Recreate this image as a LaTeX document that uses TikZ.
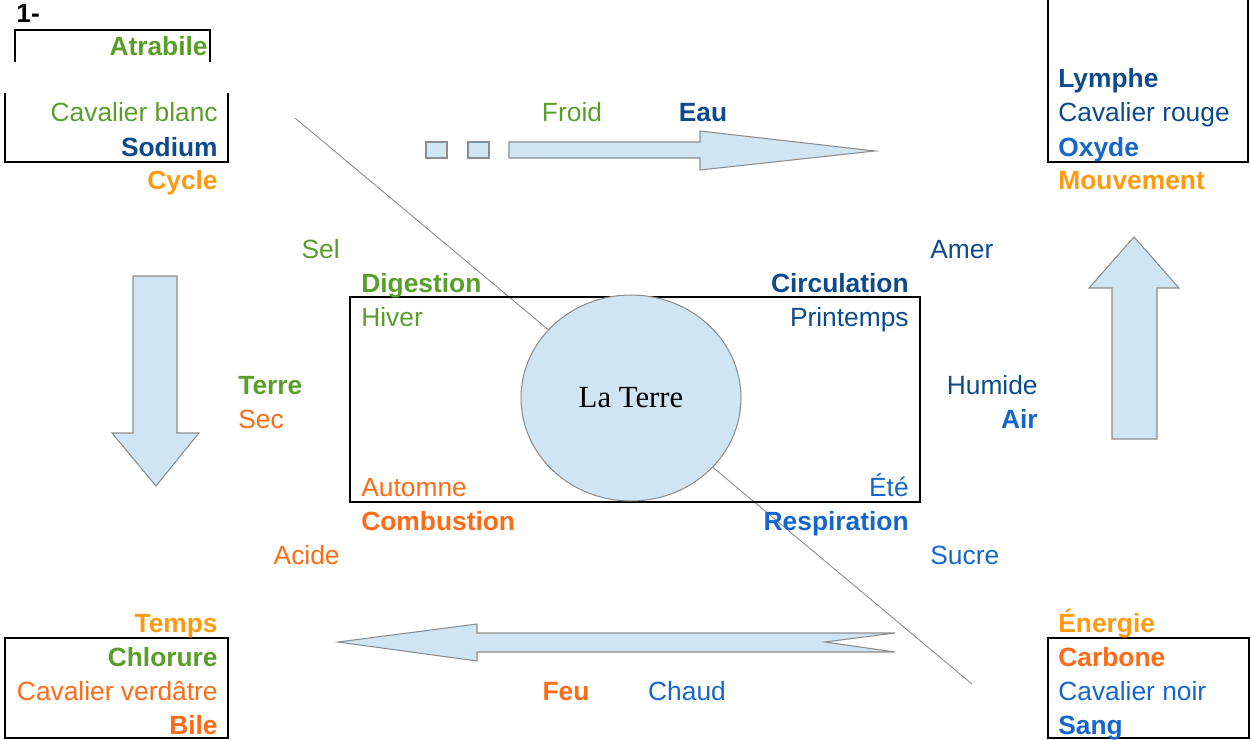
\documentclass[tikz,border=0pt]{standalone}
\usepackage{fontspec}
\setmainfont{Liberation Sans}
\newfontfamily\terrefont{Liberation Serif}
\usepackage{tikz}
\usetikzlibrary{shapes.geometric}

\definecolor{vert}{HTML}{5A9E2A}
\definecolor{bleufonce}{HTML}{0C4A8C}
\definecolor{bleu}{HTML}{1566CC}
\definecolor{orangeclair}{HTML}{FF9A0E}
\definecolor{orangefonce}{HTML}{FF6A14}
\definecolor{bleuclair}{HTML}{CFE5F3}
\definecolor{gris}{HTML}{8C8C8C}

\begin{document}
\begin{tikzpicture}[x=0.02cm,y=-0.02cm,
	txt/.style={inner sep=0pt,font=\fontsize{15}{18}\selectfont},
	gras/.style={font=\fontsize{15}{18}\selectfont\bfseries},
	gd/.style={txt,anchor=base west},
	dr/.style={txt,anchor=base east},
	mil/.style={txt,anchor=base},
	cadre/.style={line width=1.1pt},
	fleche/.style={fill=bleuclair,draw=gris,line width=0.6pt,line join=miter}]
	\useasboundingbox (0,0) rectangle (1251,740);
	%
	\coordinate (diagA) at (295,118);
	\coordinate (diagB) at (972,684);
	\draw[gris,line width=0.5pt] (diagA) -- (diagB);
	%
	\draw[cadre] (15,62) -- (15,30) -- (210,30) -- (210,62);
	\draw[cadre] (5,93) -- (5,162) -- (228,162) -- (228,93);
	\draw[cadre] (1048,-5) -- (1048,162) -- (1248,162) -- (1248,-5);
	\draw[cadre] (5,638) rectangle (228,738);
	\draw[cadre] (1048,638) rectangle (1249,738);
	\draw[cadre] (350,297) rectangle (920,502);
	%
	\draw[fleche] (426,142) rectangle (447,158);
	\draw[fleche] (468,142) rectangle (489,158);
	\draw[fleche] (509,142) -- (700,142) -- (700,131) -- (875,151) -- (700,170) -- (700,158) -- (509,158) -- cycle;
	\draw[fleche] (338,642) -- (477,624) -- (477,633) -- (895,633) -- (825,642) -- (895,652) -- (477,652) -- (477,661) -- cycle;
	\draw[fleche] (133,276) -- (177,276) -- (177,433) -- (199,433) -- (156,486) -- (112,433) -- (133,433) -- cycle;
	\draw[fleche] (1112,439) -- (1112,288) -- (1089,288) -- (1134,237) -- (1179,288) -- (1157,288) -- (1157,439) -- cycle;
	%
	\node[ellipse,draw=gris,fill=bleuclair,line width=0.6pt,inner sep=0pt,minimum width=4.4cm,minimum height=4.12cm] (terre) at (631,398) {\terrefont\fontsize{17.5}{20}\selectfont La Terre};
	%
	\node[gd,gras] (un) at (16,23) {1-};
	\node[dr,gras,vert] (atrabile) at (208,56) {Atrabile};
	\node[dr,vert] (cavblanc) at (218,122) {Cavalier blanc};
	\node[dr,gras,bleufonce] (sodium) at (218,156) {Sodium};
	\node[dr,gras,orangeclair] (cycle) at (218,190) {Cycle};
	%
	\node[gd,gras,bleufonce] (lymphe) at (1058,88) {Lymphe};
	\node[gd,bleufonce] (cavrouge) at (1058,122) {Cavalier rouge};
	\node[gd,gras,bleu] (oxyde) at (1058,156) {Oxyde};
	\node[gd,gras,orangeclair] (mouvement) at (1058,190) {Mouvement};
	%
	\node[dr,gras,orangeclair] (temps) at (218,632) {Temps};
	\node[dr,gras,vert] (chlorure) at (218,666) {Chlorure};
	\node[dr,orangefonce] (cavverdatre) at (218,700) {Cavalier verdâtre};
	\node[dr,gras,orangefonce] (bile) at (218,734) {Bile};
	%
	\node[gd,gras,orangeclair] (energie) at (1058,632) {Énergie};
	\node[gd,gras,orangefonce] (carbone) at (1058,666) {Carbone};
	\node[gd,bleu] (cavnoir) at (1058,700) {Cavalier noir};
	\node[gd,gras,bleu] (sang) at (1058,734) {Sang};
	%
	\node[mil,vert] (froid) at (572,122) {Froid};
	\node[mil,gras,bleufonce] (eau) at (703,122) {Eau};
	\node[mil,gras,orangefonce] (feu) at (566,700) {Feu};
	\node[mil,bleu] (chaud) at (687,700) {Chaud};
	%
	\node[dr,vert] (sel) at (340,258) {Sel};
	\node[gd,bleufonce] (amer) at (930,258) {Amer};
	\node[gd,gras,vert] (terremot) at (238,394) {Terre};
	\node[gd,orangefonce] (sec) at (238,428) {Sec};
	\node[dr,bleufonce] (humide) at (1038,394) {Humide};
	\node[dr,gras,bleu] (air) at (1038,428) {Air};
	\node[dr,orangefonce] (acide) at (340,564) {Acide};
	\node[gd,bleu] (sucre) at (930,564) {Sucre};
	%
	\node[gd,gras,vert] (digestion) at (361,292) {Digestion};
	\node[gd,vert] (hiver) at (361,326) {Hiver};
	\node[gd,orangefonce] (automne) at (361,496) {Automne};
	\node[gd,gras,orangefonce] (combustion) at (361,530) {Combustion};
	\node[dr,gras,bleufonce] (circulation) at (909,292) {Circulation};
	\node[dr,bleufonce] (printemps) at (909,326) {Printemps};
	\node[dr,bleu] (ete) at (909,496) {Été};
	\node[dr,gras,bleu] (respiration) at (909,530) {Respiration};
\end{tikzpicture}
\end{document}
